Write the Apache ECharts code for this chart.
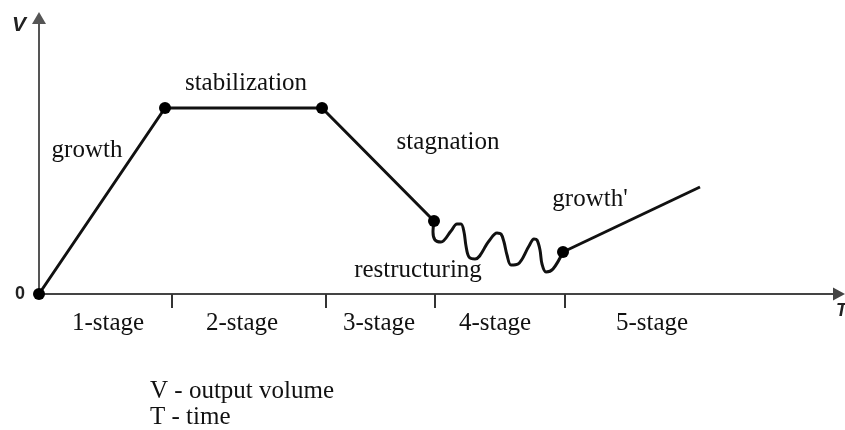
<!DOCTYPE html>
<html>
<head>
<meta charset="utf-8">
<script src="https://cdn.jsdelivr.net/npm/echarts@6/dist/echarts.min.js"></script>
<style>html,body{margin:0;padding:0;background:#fff;}#c{width:845px;height:430px;}</style>
</head>
<body>
<div id="c"></div>
<script>
// Stage path (x = time units, y = output volume units)
const mainPath = [[0, 0], [126, 186], [283, 186], [395, 73]];
const squigglePath = [[395, 73], [394, 62], [396, 54], [402, 52], [412, 63], [418, 70], [422, 70], [425, 62], [427, 48], [430, 37], [436, 35], [450, 53], [458, 61], [462, 60], [465, 52], [468, 39], [472, 29], [479, 30], [490, 48], [495, 55], [498, 54], [501, 44], [503, 30], [507, 22], [514, 25], [524, 42]];
const growth2Path = [[524, 42], [661, 107]];
const stagePoints = [[0, 0], [126, 186], [283, 186], [395, 73], [524, 42]];

const stageTicks = [133, 287, 396, 526];
const stageLabelPos = [69, 203, 340, 456, 613];
const stageNames = ['1-stage', '2-stage', '3-stage', '4-stage', '5-stage'];

const annoNames = ['growth', 'stabilization', 'stagnation', 'restructuring', "growth'"];
const annoX = [48, 207, 409, 379, 551];
const annoY = [144, 211, 152, 24, 95];

const serif = '"Liberation Serif", "Times New Roman", serif';
const chart = echarts.init(document.getElementById('c'), null, {renderer: 'canvas'});
const nameMap = {};
stageLabelPos.forEach((v, i) => { nameMap[v] = stageNames[i]; });

chart.setOption({
  animation: false,
  backgroundColor: '#fff',
  grid: {left: 39, right: 6, top: 18, bottom: 136, containLabel: false, outerBoundsMode: 'none'},
  xAxis: {
    type: 'value', min: 0, max: 800,
    splitLine: {show: false},
    axisLine: {show: true, lineStyle: {color: '#444', width: 2}, symbol: ['none', 'triangle'], symbolSize: [13, 12]},
    axisTick: {show: true, customValues: stageTicks, length: 14, lineStyle: {color: '#333', width: 2}},
    axisLabel: {show: true, customValues: stageLabelPos, formatter: v => nameMap[v] || '',
      margin: 17, fontFamily: serif, fontSize: 25, color: '#111'}
  },
  yAxis: {
    type: 'value', min: 0, max: 276,
    splitLine: {show: false},
    axisLine: {show: true, lineStyle: {color: '#555', width: 2}, symbol: ['none', 'triangle'], symbolSize: [14, 12]},
    axisTick: {show: false},
    axisLabel: {show: true, customValues: [0], margin: 14, fontFamily: '"Liberation Sans", Arial, sans-serif', fontSize: 18, fontWeight: 'bold', color: '#222'}
  },
  graphic: [
    {type: 'text', left: 12, top: 15, style: {text: 'V', font: 'italic bold 21px "Liberation Sans", Arial, sans-serif', fill: '#222'}},
    {type: 'text', left: 836, top: 302, style: {text: 'T', font: 'italic bold 18px "Liberation Sans", Arial, sans-serif', fill: '#222'}},
    {type: 'text', left: 150, top: 379, style: {text: 'V - output volume', font: '25px ' + serif, fill: '#111'}},
    {type: 'text', left: 150, top: 405, style: {text: 'T - time', font: '25px ' + serif, fill: '#111'}}
  ],
  series: [
    {type: 'line', data: mainPath, symbol: 'none', lineStyle: {color: '#111', width: 3}, z: 3},
    {type: 'line', data: squigglePath, symbol: 'none', smooth: 0.35, lineStyle: {color: '#111', width: 3}, z: 3},
    {type: 'line', data: growth2Path, symbol: 'none', lineStyle: {color: '#111', width: 3}, z: 3},
    {type: 'scatter', data: stagePoints, symbol: 'circle', symbolSize: 12, itemStyle: {color: '#000', opacity: 1}, z: 4},
    {type: 'scatter', symbolSize: 0, z: 5, itemStyle: {opacity: 1},
      data: annoNames.map((n, i) => ({name: n, value: [annoX[i], annoY[i]]})),
      label: {show: true, position: 'inside', formatter: p => p.name, fontFamily: serif, fontSize: 25, color: '#111', opacity: 1, textBorderWidth: 0}
    }
  ]
});
</script>
</body>
</html>
